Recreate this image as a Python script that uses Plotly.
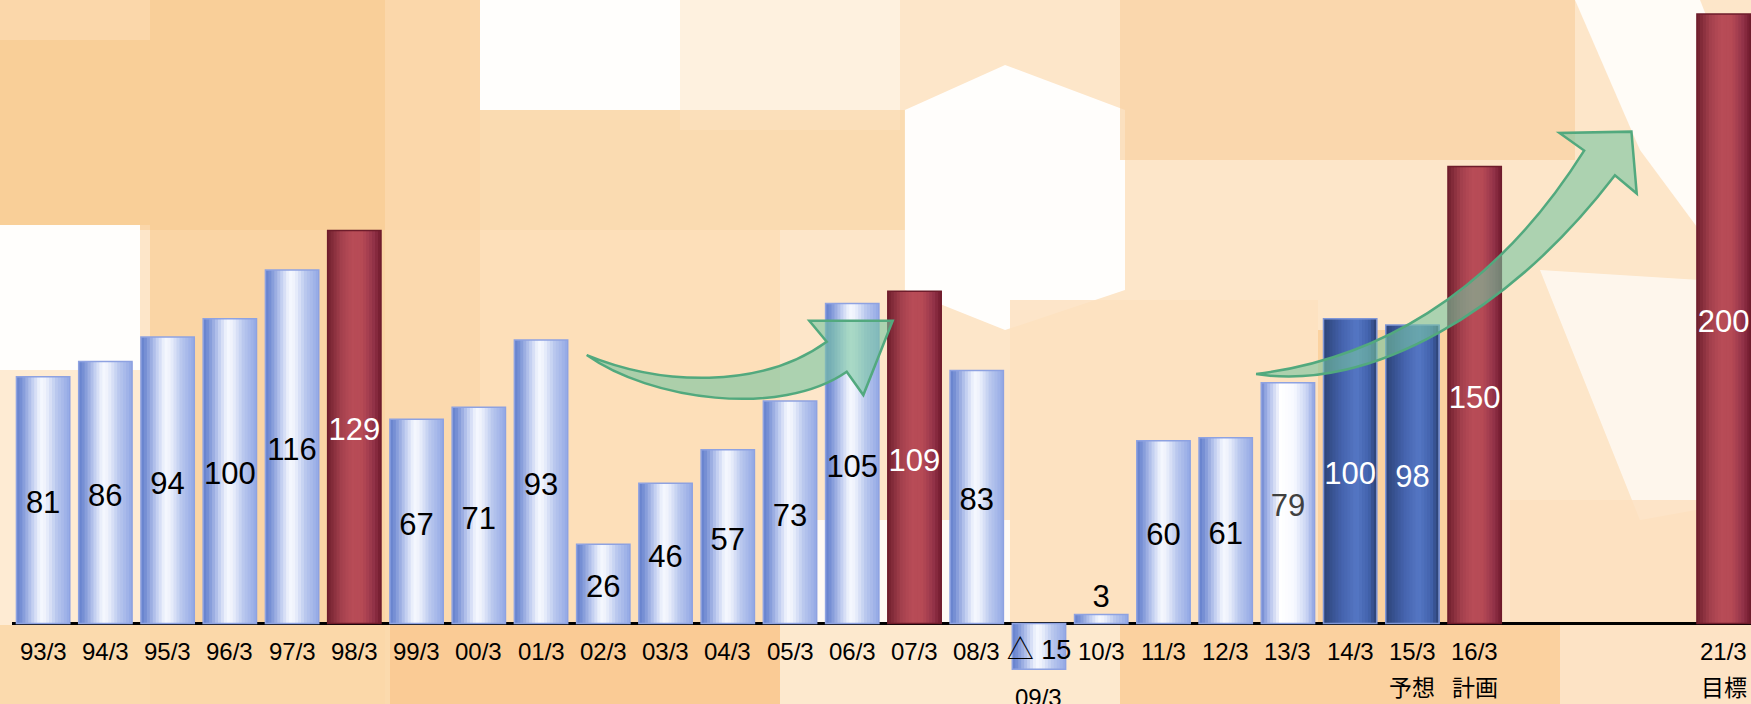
import plotly.graph_objects as go

# ---------------- data ----------------
periods = ["93/3", "94/3", "95/3", "96/3", "97/3", "98/3", "99/3", "00/3", "01/3",
           "02/3", "03/3", "04/3", "05/3", "06/3", "07/3", "08/3", "09/3", "10/3",
           "11/3", "12/3", "13/3", "14/3", "15/3", "16/3", "21/3"]
values = [81, 86, 94, 100, 116, 129, 67, 71, 93, 26, 46, 57, 73, 105, 109, 83,
          -15, 3, 60, 61, 79, 100, 98, 150, 200]
notes = [""] * 22 + ["予想", "計画", "目標"]
bar_kind = (["actual"] * 5 + ["peak"] + ["actual"] * 8 + ["peak"] + ["actual"] * 5
            + ["recent"] + ["estimate", "estimate", "plan", "target"])

# ---------------- layout constants ----------------
W, H = 1751, 704
PLOT_L = 12
X_RANGE = [-0.5, 27.44]
Y_RANGE = [-26.4, 204.6]
BAR_W = 0.857
N_STRIPS = 18
GAP_SLOTS = 3            # empty slots before the long-term target
LABEL_DROP = 1.8         # value labels sit slightly below bar middle
FONT = "Liberation Sans, Arial, Noto Sans CJK JP, sans-serif"

x_pos = [i if i < len(values) - 1 else i + GAP_SLOTS for i in range(len(values))]


def hex2rgb(h):
    h = h.lstrip("#")
    return tuple(int(h[i:i + 2], 16) for i in (0, 2, 4))


def grad(stops, t):
    for (t0, c0), (t1, c1) in zip(stops[:-1], stops[1:]):
        if t0 <= t <= t1:
            f = (t - t0) / (t1 - t0) if t1 > t0 else 0
            a, b = hex2rgb(c0), hex2rgb(c1)
            return "rgb(%d,%d,%d)" % tuple(round(a[i] + (b[i] - a[i]) * f) for i in range(3))
    return stops[-1][1]


STYLES = {
    "light": dict(stops=[(0, "#6480CC"), (0.1, "#7A92D6"), (0.3, "#C2CEF0"), (0.45, "#F6F8FE"),
                         (0.55, "#EEF2FC"), (0.75, "#BAC8EE"), (1.0, "#93A8E5")],
                  line="#8EA2E1", text="#000000"),
    "pale": dict(stops=[(0, "#6F88D1"), (0.12, "#A5B5E8"), (0.36, "#FFFFFF"), (0.62, "#F7F9FF"),
                        (0.85, "#C9D4F3"), (1.0, "#8EA3E2")],
                 line="#8EA2E1", text="#404040"),
    "red": dict(stops=[(0, "#72202F"), (0.25, "#A3404D"), (0.45, "#B84C57"), (0.65, "#B64A55"),
                       (0.85, "#95344A"), (1.0, "#731C2F")],
                line="#6E1C2B", text="#FFFFFF"),
    "dark": dict(stops=[(0, "#2C4377"), (0.35, "#4563AE"), (0.62, "#5577C4"), (0.85, "#4262AC"),
                        (1.0, "#2C4171")],
                 line="#7F96D6", text="#FFFFFF"),
}
KIND_STYLE = {"actual": "light", "recent": "pale", "peak": "red", "plan": "red",
              "target": "red", "estimate": "dark"}
styles = [STYLES[KIND_STYLE[k]] for k in bar_kind]

fig = go.Figure()

# cylinder-like gradient: overlapping vertical strips of each bar
for k in range(N_STRIPS):
    t = (k + 0.5) / N_STRIPS
    fig.add_trace(go.Bar(
        x=x_pos, y=values,
        offset=-BAR_W / 2 + k * BAR_W / N_STRIPS,
        width=BAR_W - k * BAR_W / N_STRIPS,
        marker=dict(color=[grad(s["stops"], t) for s in styles], line=dict(width=0)),
        hoverinfo="skip", showlegend=False,
    ))

# outline
fig.add_trace(go.Bar(
    x=x_pos, y=values, offset=-BAR_W / 2, width=BAR_W,
    marker=dict(color="rgba(0,0,0,0)", line=dict(color=[s["line"] for s in styles], width=1.5)),
    hoverinfo="skip", showlegend=False,
))

# value labels
inside = [(v < 0 or v >= 10) for v in values]
label_text = [("△ %d" % abs(v)) if v < 0 else str(v) for v in values]
label_y = [v / 2 - LABEL_DROP if ins else v for v, ins in zip(values, inside)]
label_pos = ["middle center" if ins else "top center" for ins in inside]
label_size = [27 if v < 0 else 31 for v in values]
fig.add_trace(go.Scatter(
    x=x_pos, y=label_y, mode="text", text=label_text, textposition=label_pos,
    textfont=dict(size=label_size, family=FONT, color=[s["text"] for s in styles]),
    hoverinfo="skip", showlegend=False,
))

# category labels
annotations = []
for xp, v, p, n in zip(x_pos, values, periods, notes):
    annotations.append(dict(x=xp, y=min(v, 0), xref="x", yref="y", text=p, showarrow=False,
                            yshift=-28, xanchor="center", yanchor="middle",
                            font=dict(size=24, family=FONT, color="#000000")))
    if n:
        annotations.append(dict(x=xp, y=0, xref="x", yref="y", text=n, showarrow=False,
                                yshift=-62.5, xanchor="center", yanchor="middle",
                                font=dict(size=23, family="Noto Sans CJK JP", color="#000000")))

# ---------------- background (faded artwork) ----------------
def px_rect(x0, y0, x1, y1, color, op=1.0):
    return dict(type="rect", xref="paper", yref="paper", x0=x0 / W, x1=x1 / W,
                y0=1 - y1 / H, y1=1 - y0 / H, fillcolor=color, opacity=op,
                line=dict(width=0), layer="below")


def px_poly(pts, color, op=1.0):
    path = "M " + " L ".join("%.4f,%.4f" % (x / W, 1 - y / H) for x, y in pts) + " Z"
    return dict(type="path", xref="paper", yref="paper", path=path, fillcolor=color,
                opacity=op, line=dict(width=0), layer="below")


bg = [
    px_rect(0, 0, 480, 230, "#FAD3A2", 0.8),
    px_rect(0, 40, 150, 225, "#F9C98C", 0.6),
    px_rect(150, 0, 385, 704, "#F9CA8E", 0.6),
    px_rect(0, 225, 140, 370, "#FFFFFF", 0.95),
    px_rect(0, 370, 140, 625, "#FEEBD4", 0.9),
    px_rect(385, 230, 480, 625, "#FAD3A2", 0.7),
    px_rect(480, 0, 680, 110, "#FFFFFF", 0.95),
    px_rect(680, 0, 900, 130, "#FEF1E0", 0.95),
    px_rect(480, 110, 1120, 230, "#F9D3A2", 0.6),
    px_rect(480, 230, 780, 625, "#FCDCB3", 0.75),
    px_rect(780, 520, 1010, 625, "#FFFFFF", 0.8),
    px_poly([(905, 110), (1005, 65), (1125, 110), (1125, 290), (1005, 330), (905, 290)], "#FFFFFF", 0.95),
    px_rect(1120, 0, 1575, 160, "#F9D09E", 0.65),
    px_rect(1010, 300, 1318, 625, "#FDE1C0", 0.85),
    px_rect(1318, 330, 1460, 625, "#F9C98E", 0.7),
    px_poly([(1575, 0), (1700, 0), (1751, 130), (1751, 300), (1640, 150)], "#FFFFFF", 0.85),
    px_poly([(1540, 270), (1700, 280), (1751, 300), (1751, 500), (1640, 520)], "#FFFFFF", 0.65),
    px_rect(1510, 500, 1751, 625, "#FCE0BF", 0.8),
    px_rect(0, 625, 390, 704, "#FBD8AA", 0.9),
    px_rect(390, 625, 780, 704, "#F8C283", 0.75),
    px_rect(780, 625, 1120, 704, "#FDE9CF", 0.95),
    px_rect(1120, 625, 1560, 704, "#F9CA90", 0.75),
    px_rect(1560, 625, 1751, 704, "#FDE3C5", 0.95),
]

# ---------------- trend arrows (data coordinates) ----------------
arrow_growth_1 = dict(tail=(8.734, 88.10), up_c1=(9.911, 78.26), up_c2=(11.518, 76.62),
                      up_end=(12.590, 92.47), head_a=(12.310, 99.36), head_tip=(13.650, 99.36),
                      head_b=(13.178, 74.98), lo_end=(12.911, 82.62),
                      lo_c2=(11.839, 67.43), lo_c1=(9.751, 73.34))
arrow_growth_2 = dict(tail=(19.489, 81.87), up_c1=(21.319, 86.46), up_c2=(23.247, 106.15),
                      up_end=(24.759, 155.20), head_a=(24.363, 160.98), head_tip=(25.519, 161.41),
                      head_b=(25.604, 141.09), lo_end=(25.254, 147.07),
                      lo_c2=(23.568, 102.21), lo_c1=(21.319, 75.96))


def arrow_path(a):
    f = lambda p: "%.4f,%.4f" % p
    return ("M " + f(a["tail"]) + " C " + f(a["up_c1"]) + " " + f(a["up_c2"]) + " " + f(a["up_end"])
            + " L " + f(a["head_a"]) + " L " + f(a["head_tip"]) + " L " + f(a["head_b"])
            + " L " + f(a["lo_end"]) + " C " + f(a["lo_c2"]) + " " + f(a["lo_c1"]) + " " + f(a["tail"])
            + " Z")


arrows = [dict(type="path", xref="x", yref="y", path=arrow_path(a),
               fillcolor="rgba(118,196,160,0.6)", line=dict(color="#52A97E", width=2.5),
               layer="above") for a in (arrow_growth_1, arrow_growth_2)]

fig.update_layout(
    width=W, height=H,
    margin=dict(l=0, r=0, t=0, b=0),
    paper_bgcolor="#FDE6C9",
    plot_bgcolor="rgba(0,0,0,0)",
    barmode="overlay",
    showlegend=False,
    xaxis=dict(domain=[PLOT_L / W, 1], range=X_RANGE, visible=False, fixedrange=True),
    yaxis=dict(range=Y_RANGE, showticklabels=False, ticks="", showgrid=False, showline=False,
               zeroline=True, zerolinecolor="#000000", zerolinewidth=2.5, fixedrange=True),
    shapes=bg + arrows,
    annotations=annotations,
)

fig.write_html("out.html")
